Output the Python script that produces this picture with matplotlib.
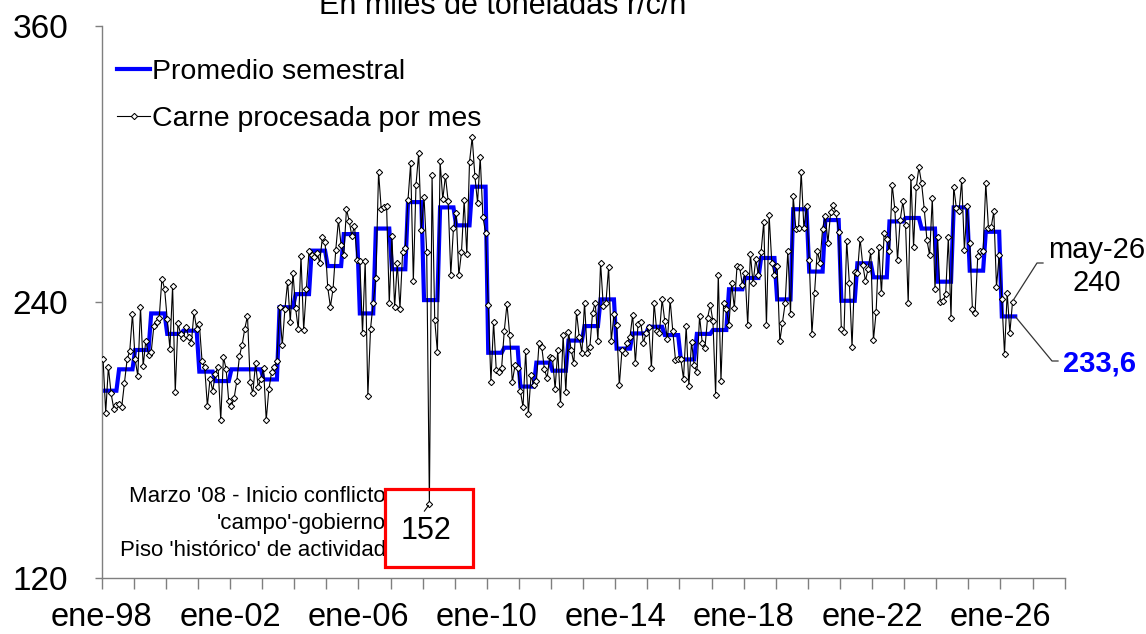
import numpy as np
import matplotlib
matplotlib.use("Agg")
import matplotlib.pyplot as plt
from matplotlib.lines import Line2D
from matplotlib.patches import Rectangle

plt.rcParams['font.family'] = ['Liberation Sans', 'DejaVu Sans']

# Carne procesada por mes (miles de t r/c/h), ene-98 .. may-26
carne_mensual = [
    215.2, 191.8, 211.5, 200.2, 193.5, 195.1, 195.5, 194.4, 204.5, 214.9, 218.7, 234.7,
    214.9, 207.7, 237.6, 212.0, 223.1, 217.0, 218.1, 229.4, 231.2, 232.9, 250.0, 245.7,
    232.3, 219.6, 246.8, 200.7, 230.6, 226.0, 224.1, 228.9, 224.8, 221.9, 235.4, 228.3,
    230.3, 214.4, 211.5, 194.7, 206.5, 201.3, 208.6, 211.8, 188.6, 215.8, 210.9, 196.7,
    194.7, 198.1, 205.4, 216.4, 221.3, 228.3, 233.8, 205.1, 200.2, 213.2, 203.1, 206.2,
    211.2, 188.6, 201.9, 209.4, 211.5, 214.4, 237.6, 221.0, 237.0, 248.6, 231.2, 252.6,
    237.1, 228.0, 259.9, 227.7, 245.4, 262.0, 260.2, 259.6, 261.3, 257.0, 268.0, 266.0,
    246.2, 237.8, 245.7, 262.5, 275.5, 264.5, 260.4, 280.2, 275.2, 268.6, 272.9, 258.1,
    257.6, 226.2, 257.8, 199.0, 228.3, 239.6, 250.3, 296.4, 280.2, 281.0, 281.6, 239.3,
    268.6, 237.6, 256.7, 237.0, 261.6, 263.3, 284.2, 300.2, 249.1, 290.9, 304.5, 271.2,
    285.4, 261.6, 152.0, 294.9, 232.0, 218.1, 301.0, 284.5, 294.7, 283.9, 251.8, 272.0,
    278.7, 251.5, 261.6, 284.2, 260.7, 300.7, 311.5, 294.7, 283.1, 302.8, 277.0, 270.0,
    238.7, 205.1, 231.2, 210.3, 209.4, 211.2, 227.4, 239.0, 225.7, 205.1, 212.3, 211.2,
    201.3, 194.1, 218.7, 191.2, 208.0, 203.6, 205.4, 221.9, 220.4, 210.6, 206.8, 216.1,
    215.5, 202.2, 219.0, 195.5, 225.7, 200.7, 226.8, 219.0, 213.2, 235.5, 224.8, 217.8,
    239.6, 217.8, 220.4, 235.2, 239.6, 223.1, 257.0, 238.1, 239.6, 254.9, 222.8, 234.7,
    229.7, 203.6, 219.0, 217.8, 222.2, 224.8, 234.4, 213.2, 230.3, 231.2, 222.2, 226.2,
    228.9, 211.2, 239.6, 227.1, 226.5, 241.0, 231.5, 223.6, 240.7, 227.1, 214.7, 215.2,
    214.9, 206.5, 229.4, 203.3, 222.5, 212.3, 209.4, 233.8, 222.2, 219.9, 232.9, 238.7,
    231.5, 199.6, 251.8, 205.7, 239.6, 236.7, 230.0, 248.0, 237.3, 255.5, 254.9, 247.4,
    252.6, 230.0, 260.7, 248.0, 258.4, 251.8, 261.6, 274.7, 229.7, 277.8, 257.0, 251.5,
    255.5, 222.8, 230.9, 239.3, 262.2, 234.7, 286.0, 271.5, 272.0, 296.4, 272.0, 281.6,
    258.1, 226.0, 243.9, 262.2, 257.0, 271.8, 277.3, 265.7, 279.0, 281.9, 278.7, 270.3,
    228.0, 226.8, 266.5, 248.0, 220.4, 252.9, 252.3, 267.4, 256.1, 249.1, 254.1, 261.9,
    223.3, 235.5, 263.6, 243.6, 270.0, 267.1, 261.9, 290.9, 280.2, 258.1, 275.5, 283.6,
    273.5, 239.3, 294.4, 263.9, 289.7, 298.4, 291.5, 280.2, 266.8, 260.2, 285.1, 245.7,
    268.0, 239.9, 240.2, 243.3, 268.0, 232.9, 290.0, 280.7, 279.3, 292.9, 262.5, 281.6,
    265.7, 237.0, 235.2, 259.9, 262.2, 262.2, 291.5, 272.0, 272.3, 279.3, 246.5, 260.2,
    241.0, 217.3, 243.9, 226.5, 240.0,
]

# Promedio semestral (1S-98 .. 1S-26)
promedio_semestral = [
    201.3, 210.6, 219.0, 234.9, 226.0, 227.4, 209.6, 205.5, 210.6, 210.6,
    206.2, 237.6, 243.3, 262.2, 255.5, 269.4, 234.9, 271.8, 254.1, 283.3,
    240.7, 281.0, 273.2, 290.0, 217.8, 220.0, 203.1, 213.5, 210.0, 223.1,
    229.4, 241.0, 219.6, 226.2, 229.1, 225.5, 214.9, 226.0, 227.7, 245.4,
    250.3, 259.0, 241.0, 280.2, 253.1, 275.5, 240.4, 256.7, 250.6, 274.9,
    276.4, 271.8, 248.7, 281.0, 253.5, 270.4, 233.6,
]

x_labels = ['ene-98', 'ene-02', 'ene-06', 'ene-10', 'ene-14', 'ene-18', 'ene-22', 'ene-26']
n_categorias = 360          # ene-98 .. dic-27 on the category axis
y_ticks = [120, 240, 360]

W, H = 1146, 634
fig = plt.figure(figsize=(W / 100, H / 100), dpi=100)
L, R, T, B = 101.7, 1064.7, 25.7, 577.7
ax = fig.add_axes([L / W, (H - B) / H, (R - L) / W, (B - T) / H])

def fx(px):
    return px / W

def fy(py):
    return 1 - py / H

carne = np.array(carne_mensual)
xm = np.arange(len(carne))
prom = np.repeat(np.array(promedio_semestral), 6)
xp = np.arange(len(prom))

ax.plot(xp, prom, color='#0000FF', lw=3.0, solid_joinstyle='miter', zorder=2,
        label='Promedio semestral')
ax.plot(xm, carne, color='black', lw=0.8, marker='D', ms=3.2, mfc='white',
        mec='black', mew=0.75, zorder=3, label='Carne procesada por mes')

ax.set_xlim(-0.5, n_categorias - 0.5)
ax.set_ylim(120, 360)

ticks = np.arange(-0.5, n_categorias, 12)
ax.set_xticks(ticks)
lbls = []
k = 0
for j in range(len(ticks)):
    if j % 4 == 0 and k < len(x_labels):
        lbls.append(x_labels[k]); k += 1
    else:
        lbls.append('')
ax.set_xticklabels(lbls)
ax.set_yticks(y_ticks)
ax.set_yticklabels([str(v) for v in y_ticks])

spine_c = '#7f7f7f'
for s in ['top', 'right']:
    ax.spines[s].set_visible(False)
for s in ['left', 'bottom']:
    ax.spines[s].set_color(spine_c)
    ax.spines[s].set_linewidth(1.0)
ax.tick_params(axis='x', direction='out', length=7.7, width=1.0, color=spine_c,
               labelsize=23.5, pad=9.5)
ax.tick_params(axis='y', direction='out', length=5, width=1.0, color=spine_c,
               labelsize=24, pad=19)

# Legend
leg = ax.legend(loc='upper left', bbox_to_anchor=(fx(117), fy(59)),
                bbox_transform=fig.transFigure, frameon=False, fontsize=20.5,
                handlelength=1.16, handletextpad=0.08, labelspacing=0.75,
                borderpad=0, borderaxespad=0)

# Title (partly cut at top in the original)
fig.text(fx(503), fy(14), 'En miles de toneladas r/c/h', ha='center', va='baseline',
         fontsize=22)

# Annotation around the minimum (Mar-08)
fig.text(fx(386), fy(497), "Marzo '08 - Inicio conflicto", ha='right', va='center', fontsize=16)
fig.text(fx(386), fy(524), "'campo'-gobierno", ha='right', va='center', fontsize=16)
fig.text(fx(386), fy(550), "Piso 'histórico' de actividad", ha='right', va='center', fontsize=16)
fig.patches.append(Rectangle((fx(385), fy(567)), fx(473) - fx(385), fy(489) - fy(567),
                             transform=fig.transFigure, fill=False, edgecolor='#FF0000',
                             lw=2.3, zorder=5))
fig.text(fx(426), fy(531), '152', ha='center', va='center', fontsize=22)

def to_fig(xd, yd):
    disp = ax.transData.transform((xd, yd))
    return fig.transFigure.inverted().transform(disp)

i_min = int(np.argmin(carne))
p0 = to_fig(i_min, carne[i_min])
fig.lines.append(Line2D([p0[0] - fx(1), p0[0] - fx(5)], [p0[1] - 1.5 / H, p0[1] - 7 / H],
                        transform=fig.transFigure, color='black', lw=0.8))

# Last value annotation
i_last = len(carne) - 1
p1 = to_fig(i_last, carne[i_last])
fig.lines.append(Line2D([p1[0] + fx(1), fx(1037), fx(1043)], [p1[1] + 2 / H, fy(263), fy(263)],
                        transform=fig.transFigure, color='#333333', lw=0.9))
fig.text(fx(1097), fy(250), 'may-26', ha='center', va='center', fontsize=21)
fig.text(fx(1097), fy(283), '240', ha='center', va='center', fontsize=21)

p2 = to_fig(len(prom) - 1, prom[-1])
fig.lines.append(Line2D([p2[0], fx(1052), fx(1058)], [p2[1], fy(361), fy(361)],
                        transform=fig.transFigure, color='#333333', lw=0.9))
fig.text(fx(1099), fy(363), '233,6', ha='center', va='center', fontsize=21,
         fontweight='bold', color='#0000FF')

fig.savefig('out.png', dpi=100)
